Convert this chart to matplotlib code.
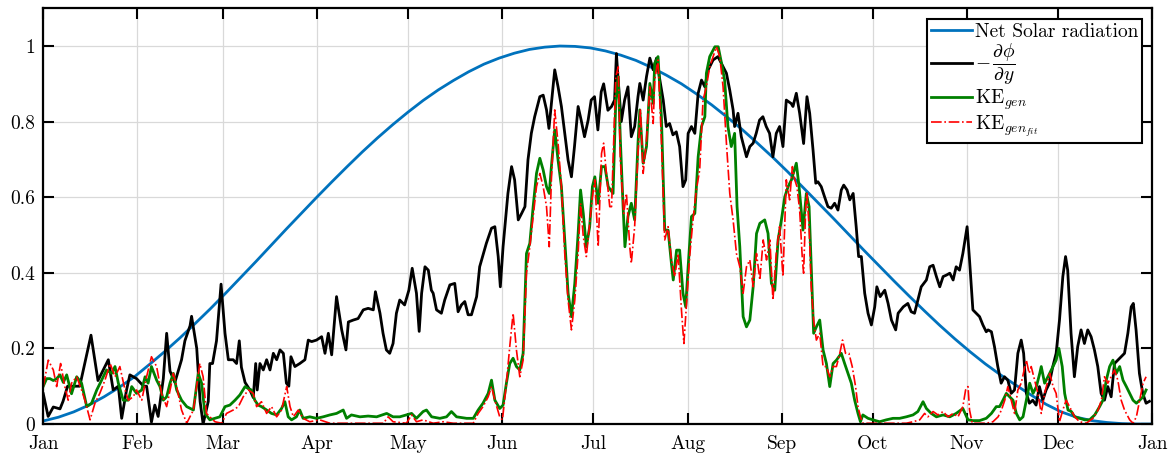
import matplotlib
matplotlib.use("Agg")
import matplotlib.pyplot as plt
from matplotlib.ticker import FixedLocator, FixedFormatter

plt.rcParams['font.family'] = 'serif'
plt.rcParams['font.serif'] = ['cmr10', 'DejaVu Serif']
plt.rcParams['mathtext.fontset'] = 'cm'
plt.rcParams['axes.formatter.use_mathtext'] = True

# ---------------- data (day of year, normalised value) ----------------
month_days = [0, 31, 59, 90, 120, 151, 181, 212, 243, 273, 304, 334, 365]
month_labels = ['Jan', 'Feb', 'Mar', 'Apr', 'May', 'Jun', 'Jul', 'Aug',
                'Sep', 'Oct', 'Nov', 'Dec', 'Jan']
ytick_vals = [0, 0.2, 0.4, 0.6, 0.8, 1.0]
ytick_labels = ['0', '0.2', '0.4', '0.6', '0.8', '1']

solar_days = [0, 5, 10, 15, 20, 25, 30, 35, 40, 45, 50, 55, 60, 65, 70, 75, 80, 85,
              90, 95, 100, 105, 110, 115, 120, 125, 130, 135, 140, 145, 150, 155,
              160, 165, 170, 175, 180, 185, 190, 195, 200, 205, 210, 215, 220, 225,
              230, 235, 240, 245, 250, 255, 260, 265, 270, 275, 280, 285, 290, 295,
              300, 305, 310, 315, 320, 325, 330, 335, 340, 345, 350, 355, 360, 365]
solar_vals = [0.008, 0.018, 0.032, 0.05, 0.072, 0.097, 0.125, 0.158, 0.192, 0.228,
              0.266, 0.305, 0.346, 0.388, 0.43, 0.473, 0.516, 0.558, 0.6, 0.641,
              0.681, 0.72, 0.757, 0.792, 0.825, 0.856, 0.884, 0.909, 0.932, 0.952,
              0.968, 0.981, 0.991, 0.997, 1.0, 0.999, 0.995, 0.987, 0.976, 0.962,
              0.944, 0.923, 0.9, 0.873, 0.844, 0.812, 0.779, 0.743, 0.706, 0.667,
              0.626, 0.585, 0.544, 0.502, 0.46, 0.419, 0.378, 0.338, 0.299, 0.261,
              0.225, 0.191, 0.159, 0.13, 0.103, 0.077, 0.052, 0.032, 0.018, 0.009,
              0.004, 0.001, 0.0, 0.0]

grad_days = [0.0, 1.6, 3.3, 5.5, 6.5, 8.0, 12.0, 15.7, 18.0, 21.4, 23.0, 24.7, 25.8,
             27.4, 28.5, 30.7, 33.0, 34.0, 35.6, 36.7, 37.8, 39.5, 40.6, 41.7, 43.3,
             45.5, 46.6, 48.3, 48.8, 50.5, 51.6, 52.6, 54.3, 54.8, 55.7, 57.0, 58.5,
             59.8, 60.9, 62.5, 63.6, 64.5, 65.2, 66.4, 68.0, 69.1, 69.9, 70.4, 71.3,
             72.4, 73.5, 74.6, 75.7, 76.8, 77.9, 79.0, 80.0, 80.8, 81.5, 82.8, 84.4,
             86.1, 87.2, 88.3, 89.9, 91.6, 92.7, 93.8, 94.9, 96.5, 98.2, 99.6, 100.4,
             102.0, 103.6, 105.3, 106.9, 108.6, 109.3, 110.8, 111.8, 112.9, 114.0,
             115.1, 116.2, 117.3, 118.9, 120.3, 121.4,
             122.8, 123.7, 124.5, 125.6, 126.7, 127.7, 128.3, 129.4, 131.0, 132.1,
             133.8, 135.4, 136.5, 137.6, 138.7, 139.8, 140.9, 142.6, 143.6, 144.7,
             145.8, 147.5, 148.6, 149.7, 150.4, 151.3, 152.9, 154.1, 155.1, 156.3,
             157.4, 158.5, 159.5, 160.6, 161.7, 163.4, 164.5, 165.6, 166.4, 167.2,
             168.3, 169.4, 170.5, 171.6, 172.7, 173.8, 174.8, 176.0, 177.0, 178.1,
             179.3, 180.3, 181.4, 182.5, 183.6, 184.4, 185.8,
             187.0, 188.0, 188.6, 189.1, 190.2, 191.3, 192.4, 193.5, 194.6, 195.7,
             196.3, 197.4, 198.5, 199.6, 200.7, 201.8, 202.9, 204.0, 205.0, 206.1,
             207.2, 208.3, 209.4, 210.5, 211.4, 212.2, 213.3, 214.4, 215.5, 216.6,
             217.7, 218.8, 220.4, 222.0, 223.7, 224.8, 225.9, 227.0, 227.5, 228.6,
             229.7, 231.4, 232.5, 233.6, 234.6, 235.7, 236.8, 237.9, 239.0, 240.1,
             241.2, 242.3, 243.4, 244.5, 246.1,
             246.7, 247.8, 248.9, 250.2, 251.3, 252.2, 253.3, 254.2, 254.9, 256.0,
             257.1, 258.2, 259.3, 260.4, 261.5, 262.6, 263.4, 264.5, 265.4, 266.5,
             267.5, 268.3, 269.2, 270.3, 271.4, 272.5, 273.6, 274.3, 275.4, 276.9,
             278.0, 279.1, 280.5, 281.3, 283.0, 284.5, 285.6, 286.7, 287.8, 288.9,
             290.6, 291.7, 292.8, 293.9, 295.0, 296.1, 297.2, 298.3, 299.4, 300.4,
             301.5, 302.6, 304.0, 304.8, 305.9, 307.0, 308.1, 309.2, 310.3,
             310.9, 312.0, 313.0, 314.1, 315.2, 316.3, 317.4, 318.5, 319.6, 320.7,
             321.8, 322.6, 323.5, 324.5, 325.6, 326.7, 327.8, 328.9, 330.0, 331.1,
             332.2, 333.3, 334.4, 335.5, 336.4, 337.1, 338.2, 339.3, 340.4, 341.5,
             342.6, 343.7, 344.8, 345.9, 347.0, 348.1, 349.2, 350.3, 351.4, 352.5,
             353.6, 354.7, 355.8, 356.9, 358.0, 358.7, 359.6, 360.7, 361.8, 362.9,
             364.0]
grad_vals = [0.08, 0.02, 0.045, 0.04, 0.06, 0.10, 0.10, 0.235, 0.115, 0.17, 0.09, 0.10,
             0.015, 0.09, 0.13, 0.12, 0.10, 0.10, 0.005, 0.05, 0.02, 0.12, 0.24, 0.14,
             0.11, 0.17, 0.22, 0.26, 0.285, 0.20, 0.06, 0.0, 0.06, 0.16, 0.16, 0.22,
             0.37, 0.24, 0.17, 0.17, 0.16, 0.22, 0.15, 0.11, 0.09, 0.07, 0.16, 0.09,
             0.16, 0.143, 0.17, 0.143, 0.187, 0.17, 0.196, 0.187, 0.108, 0.10, 0.178,
             0.152, 0.16, 0.17, 0.222, 0.218, 0.222, 0.231, 0.187, 0.24, 0.183, 0.337,
             0.249, 0.196, 0.27, 0.275, 0.279, 0.302, 0.306, 0.302, 0.35, 0.293, 0.24,
             0.196, 0.187, 0.213, 0.293, 0.328, 0.315, 0.354, 0.412,
             0.346, 0.245, 0.346, 0.416, 0.407, 0.354, 0.346, 0.302, 0.293, 0.328,
             0.368, 0.372, 0.297, 0.315, 0.324, 0.289, 0.289, 0.337, 0.416, 0.447,
             0.478, 0.518, 0.522, 0.443, 0.363, 0.469, 0.61, 0.681, 0.646, 0.54,
             0.557, 0.575, 0.699, 0.769, 0.813, 0.866, 0.87, 0.831, 0.782, 0.848,
             0.937, 0.892, 0.84, 0.769, 0.698, 0.654, 0.734, 0.84, 0.804, 0.76,
             0.804, 0.857, 0.866, 0.778, 0.879, 0.90, 0.83,
             0.84, 0.857, 0.98, 0.919, 0.80, 0.857, 0.892, 0.76, 0.787, 0.866,
             0.901, 0.857, 0.919, 0.968, 0.937, 0.968, 0.91, 0.857, 0.787, 0.795,
             0.765, 0.773, 0.734, 0.628, 0.646, 0.769, 0.787, 0.769, 0.875, 0.91,
             0.892, 0.937, 0.963, 0.972, 0.945, 0.928, 0.883, 0.831, 0.787, 0.822,
             0.76, 0.707, 0.734, 0.743, 0.769, 0.804, 0.813, 0.787, 0.769, 0.707,
             0.769, 0.787, 0.734, 0.857, 0.848,
             0.84, 0.875, 0.822, 0.742, 0.866, 0.822, 0.725, 0.637, 0.641, 0.628,
             0.601, 0.575, 0.571, 0.584, 0.566, 0.619, 0.632, 0.619, 0.593, 0.61,
             0.522, 0.443, 0.443, 0.346, 0.293, 0.262, 0.31, 0.363, 0.337, 0.354,
             0.319, 0.275, 0.249, 0.293, 0.31, 0.319, 0.297, 0.293, 0.328, 0.363,
             0.381, 0.416, 0.42, 0.39, 0.363, 0.39, 0.394, 0.399, 0.381, 0.416,
             0.407, 0.451, 0.522, 0.434, 0.302, 0.293, 0.284, 0.262, 0.244,
             0.249, 0.244, 0.205, 0.152, 0.108, 0.125, 0.116, 0.081, 0.09, 0.187,
             0.222, 0.187, 0.081, 0.055, 0.063, 0.05, 0.099, 0.063, 0.09, 0.108,
             0.152, 0.187, 0.275, 0.39, 0.443, 0.407, 0.24, 0.125, 0.205, 0.249,
             0.213, 0.249, 0.231, 0.196, 0.152, 0.081, 0.063, 0.099, 0.072, 0.16,
             0.169, 0.178, 0.187, 0.24, 0.31, 0.319, 0.249, 0.134, 0.081, 0.055,
             0.06]

ke_days = [0.0, 1.1, 2.2, 3.3, 4.4, 5.5, 6.6, 7.7, 9.3, 11.0, 12.6, 14.3, 15.9, 17.6,
           19.2, 20.8, 22.5, 23.6, 24.7, 26.3, 28.0, 29.1, 30.7, 32.4, 33.5, 34.5,
           35.6, 37.3, 38.4, 39.5, 40.6, 41.7, 42.8, 43.9, 45.5, 47.2, 49.4, 51.0,
           52.1, 53.2, 54.8, 56.5, 58.1,
           59.8, 61.4, 63.1, 64.7, 66.4, 67.4, 68.5, 69.6, 70.7, 71.8, 73.5, 75.1,
           76.8, 78.4, 79.5, 80.6, 81.7, 83.3, 84.4, 85.5, 87.7, 89.9, 92.1, 94.3,
           96.5, 98.7, 99.8, 101.4, 104.2, 106.9, 109.7, 113.0, 115.1, 117.3, 119.5,
           121.2, 122.8,
           125.0, 126.1, 127.8, 130.5, 132.7, 134.3, 136.0, 139.3, 141.5, 143.1,
           144.7, 146.4, 147.5, 148.6, 150.2, 151.3, 152.4, 153.5, 154.6, 155.7,
           156.8, 157.9, 159.0, 160.1, 161.2, 162.3, 163.4, 164.5, 165.6, 166.5,
           167.2, 168.3, 169.4, 170.5, 171.6, 172.7, 173.8, 174.9, 176.0, 176.8,
           177.7, 178.7, 179.8, 180.7, 181.5, 182.6, 183.7, 184.8, 185.9,
           187.5, 188.4, 189.2, 189.9, 190.8, 191.4, 192.4, 193.5, 194.6, 195.7,
           196.3, 197.4, 198.5, 199.6, 200.7, 201.2, 202.3, 203.4, 204.5, 205.6,
           206.7, 207.3, 208.4, 209.4, 210.5, 211.4, 212.2, 213.3, 214.4, 215.5,
           216.6, 217.7, 218.2, 219.3, 221.0, 222.1, 223.2, 224.2, 225.3, 226.4,
           227.5, 228.3, 229.2, 230.3, 231.4, 232.5, 233.6, 234.7, 235.8, 237.4,
           238.5, 239.6, 240.7, 241.8, 242.9, 244.0, 245.1, 246.2, 247.8,
           248.7, 250.0, 251.1, 252.0, 252.7, 253.5, 254.4, 255.5, 256.6, 257.7,
           258.8, 259.9, 261.0, 262.6, 263.7, 264.8, 265.9, 267.0, 268.1, 268.9,
           269.7, 271.4, 273.0, 275.2, 277.4, 279.6, 281.8, 284.0, 286.2, 287.8,
           289.5, 290.6, 292.2, 293.9, 296.1, 298.3, 300.4, 302.6, 304.3, 305.9,
           308.1,
           310.3, 312.0, 313.6, 314.7, 315.8, 316.9, 318.0, 319.1, 320.2, 321.3,
           322.4, 323.5, 324.6, 325.7, 326.8, 327.9, 328.4, 329.5, 330.6, 331.7,
           333.3, 334.2, 335.3, 336.1, 337.2, 338.3, 339.4, 341.0, 342.7, 344.3,
           346.0, 347.6, 348.7, 349.8, 350.9, 352.0, 353.1, 354.2, 355.3, 356.4,
           357.5, 358.6, 359.7, 360.8, 361.9, 362.9]
ke_vals = [0.10, 0.12, 0.12, 0.115, 0.12, 0.13, 0.11, 0.13, 0.08, 0.125, 0.108, 0.046,
           0.055, 0.09, 0.116, 0.143, 0.134, 0.152, 0.108, 0.063, 0.063, 0.099, 0.081,
           0.09, 0.125, 0.108, 0.152, 0.116, 0.099, 0.063, 0.072, 0.108, 0.134, 0.09,
           0.063, 0.046, 0.037, 0.134, 0.108, 0.028, 0.011, 0.015, 0.019,
           0.046, 0.05, 0.063, 0.077, 0.099, 0.094, 0.09, 0.063, 0.05, 0.046, 0.037,
           0.028, 0.024, 0.041, 0.059, 0.019, 0.011, 0.019, 0.037, 0.015, 0.019,
           0.015, 0.019, 0.024, 0.028, 0.037, 0.015, 0.024, 0.019, 0.021, 0.019,
           0.028, 0.019, 0.019, 0.024, 0.028, 0.015,
           0.033, 0.037, 0.019, 0.015, 0.019, 0.033, 0.019, 0.015, 0.015, 0.037,
           0.055, 0.081, 0.116, 0.063, 0.041, 0.05, 0.108, 0.16, 0.174, 0.152,
           0.143, 0.187, 0.451, 0.478, 0.575, 0.663, 0.703, 0.672, 0.628, 0.61,
           0.681, 0.778, 0.698, 0.628, 0.487, 0.346, 0.284, 0.372, 0.504, 0.619,
           0.557, 0.469, 0.522, 0.628, 0.654, 0.584, 0.681, 0.681, 0.628,
           0.61, 0.857, 0.919, 0.751, 0.575, 0.469, 0.549, 0.584, 0.54, 0.743,
           0.831, 0.69, 0.734, 0.901, 0.848, 0.954, 0.972, 0.813, 0.513, 0.513,
           0.425, 0.381, 0.46, 0.46, 0.346, 0.31, 0.416, 0.549, 0.557, 0.707,
           0.787, 0.813, 0.928, 0.972, 0.998, 0.998, 0.954, 0.91, 0.787, 0.734,
           0.769, 0.575, 0.469, 0.284, 0.257, 0.275, 0.363, 0.504, 0.531, 0.54,
           0.504, 0.372, 0.354, 0.487, 0.54, 0.601, 0.628, 0.646, 0.69,
           0.628, 0.513, 0.61, 0.575, 0.416, 0.24, 0.257, 0.275, 0.196, 0.16,
           0.099, 0.16, 0.169, 0.187, 0.16, 0.134, 0.108, 0.063, 0.028, 0.006,
           0.024, 0.015, 0.011, 0.006, 0.011, 0.015, 0.015, 0.019, 0.024, 0.033,
           0.059, 0.041, 0.028, 0.019, 0.024, 0.019, 0.028, 0.041, 0.011, 0.009,
           0.009,
           0.015, 0.028, 0.046, 0.046, 0.063, 0.081, 0.072, 0.063, 0.028, 0.011,
           0.019, 0.063, 0.108, 0.081, 0.099, 0.134, 0.152, 0.108, 0.125, 0.143,
           0.169, 0.20, 0.152, 0.081, 0.037, 0.033, 0.019, 0.015, 0.011, 0.011,
           0.024, 0.046, 0.063, 0.116, 0.152, 0.169, 0.134, 0.152, 0.116, 0.099,
           0.081, 0.063, 0.055, 0.063, 0.072, 0.09]

kefit_days = [0.0, 1.65, 3.3, 4.4, 5.7, 7.1, 8.2, 9.3, 11.0, 12.6, 13.7, 15.4, 17.0,
              18.6, 20.3, 22.0, 23.6, 25.2, 26.9, 28.0, 29.6, 30.7, 32.4, 34.0, 35.6,
              37.3, 38.9, 40.6, 42.2, 42.8, 43.9, 45.5, 47.2, 49.4, 51.5, 52.6, 53.7,
              56.5, 58.7,
              60.3, 62.5, 64.2, 65.8, 67.5, 69.1, 70.2, 71.8, 73.5, 75.1, 76.8, 78.4,
              80.1, 81.2, 82.3, 83.9, 85.5, 87.7, 91.0, 94.3, 100.9, 111.9, 113.5,
              115.1, 119.5, 121.2, 122.8,
              125.0, 128.3, 131.6, 134.9, 141.5, 143.1, 144.7, 146.4, 147.5, 148.6,
              150.2, 151.1, 152.4, 153.5, 154.6, 155.7, 156.8, 157.9, 159.0, 160.1,
              161.2, 162.3, 163.4, 164.5, 165.6, 166.5, 167.2, 168.3, 169.4, 170.5,
              171.6, 172.7, 173.8, 174.9, 176.0, 176.8, 177.7, 178.7, 179.8, 180.7,
              181.5, 182.6, 183.7, 184.4, 185.3, 186.4,
              187.0, 188.4, 189.2, 189.9, 191.0, 191.9, 193.0, 193.5, 194.6, 195.7,
              196.5, 197.4, 198.5, 199.6, 200.7, 201.2, 202.3, 203.4, 204.5, 205.6,
              206.7, 207.8, 208.9, 210.0, 210.8, 211.6, 212.7, 213.8, 214.9, 216.0,
              217.1, 218.2, 219.3, 221.5, 222.6, 223.7, 224.8, 225.9, 227.0, 228.1,
              229.2, 230.3, 231.4, 232.5, 233.6, 234.7, 235.8, 236.9, 238.0, 239.1,
              240.1, 241.2, 242.3, 243.4, 244.5, 245.6, 246.5, 247.3, 248.0, 248.9,
              249.8, 250.2, 250.9, 251.3, 252.0, 252.7, 253.5, 254.4, 255.5, 256.6,
              257.7, 258.8, 259.9, 261.0, 262.1, 263.0, 264.0, 265.1, 266.2, 267.3,
              268.1, 268.9, 269.7, 277.4, 284.0, 286.2, 288.4, 290.0, 291.1, 292.8,
              294.4, 296.1, 297.7, 299.4, 301.0, 302.6, 303.5, 304.3, 304.8, 305.7,
              308.1,
              310.3, 312.5, 314.2, 315.3, 316.4, 317.4, 318.5, 319.6, 320.7, 321.8,
              323.5, 324.4, 325.1, 326.2, 327.3, 328.4, 329.5, 331.2, 332.3, 333.3,
              334.4, 335.5, 336.6, 337.7, 339.4, 341.0, 343.2, 345.4, 347.1, 348.2,
              349.2, 350.3, 351.4, 352.5, 353.6, 354.7, 355.8, 357.5, 358.6, 359.7,
              360.8, 361.9, 362.9]
kefit_vals = [0.099, 0.169, 0.143, 0.099, 0.16, 0.099, 0.063, 0.108, 0.125, 0.09, 0.063,
              0.011, 0.055, 0.081, 0.116, 0.16, 0.125, 0.152, 0.09, 0.063, 0.072, 0.09,
              0.063, 0.125, 0.178, 0.152, 0.081, 0.046, 0.108, 0.134, 0.099, 0.037,
              0.002, 0.037, 0.16, 0.125, 0.028, 0.006, 0.002,
              0.028, 0.037, 0.046, 0.072, 0.09, 0.081, 0.046, 0.059, 0.028, 0.046,
              0.019, 0.037, 0.099, 0.046, 0.019, 0.037, 0.015, 0.006, 0.011, 0.002,
              0.002, 0.002, 0.019, 0.006, 0.002, 0.024, 0.006,
              0.011, 0.002, 0.006, 0.002, 0.002, 0.028, 0.046, 0.072, 0.099, 0.063,
              0.019, 0.011, 0.108, 0.205, 0.293, 0.196, 0.125, 0.169, 0.399, 0.469,
              0.549, 0.628, 0.663, 0.628, 0.575, 0.469, 0.646, 0.831, 0.743, 0.628,
              0.451, 0.328, 0.249, 0.328, 0.451, 0.584, 0.496, 0.443, 0.531, 0.601,
              0.646, 0.469, 0.716, 0.743, 0.663, 0.575,
              0.575, 0.919, 0.945, 0.698, 0.557, 0.61, 0.469, 0.425, 0.522, 0.716,
              0.831, 0.663, 0.751, 0.892, 0.795, 0.91, 0.963, 0.751, 0.487, 0.522,
              0.434, 0.39, 0.451, 0.302, 0.213, 0.31, 0.443, 0.54, 0.619, 0.672,
              0.857, 0.892, 0.945, 0.998, 0.972, 0.892, 0.743, 0.61, 0.54, 0.451,
              0.416, 0.346, 0.416, 0.434, 0.363, 0.451, 0.381, 0.487, 0.434, 0.487,
              0.328, 0.451, 0.522, 0.39, 0.646, 0.593, 0.681, 0.646, 0.628, 0.566,
              0.434, 0.399, 0.575, 0.61, 0.522, 0.363, 0.275, 0.222, 0.24, 0.152,
              0.152, 0.125, 0.152, 0.152, 0.187, 0.222, 0.187, 0.187, 0.152, 0.099,
              0.046, 0.019, 0.002, 0.002, 0.002, 0.006, 0.011, 0.028, 0.019, 0.033,
              0.024, 0.033, 0.019, 0.028, 0.019, 0.046, 0.09, 0.099, 0.037, 0.002,
              0.002,
              0.002, 0.006, 0.019, 0.037, 0.063, 0.099, 0.063, 0.028, 0.09, 0.108,
              0.169, 0.134, 0.152, 0.116, 0.081, 0.028, 0.081, 0.134, 0.099, 0.081,
              0.006, 0.037, 0.063, 0.046, 0.019, 0.006, 0.002, 0.015, 0.037, 0.063,
              0.125, 0.108, 0.125, 0.143, 0.116, 0.063, 0.037, 0.011, 0.002, 0.019,
              0.063, 0.108, 0.125]

legend_labels = ['Net Solar radiation',
                 r'$-\,\dfrac{\partial\phi}{\partial y}$',
                 r'$\mathrm{KE}_{gen}$',
                 r'$\mathrm{KE}_{gen_{fit}}$']

# ---------------- plotting ----------------
fig = plt.figure(figsize=(11.76, 4.57), dpi=100)
ax = fig.add_axes([0.0368, 0.0722, 0.9432, 0.9098])

ax.plot(solar_days, solar_vals, color='#0072BD', lw=2.0, label=legend_labels[0])
ax.plot(grad_days, grad_vals, color='black', lw=2.0, label=legend_labels[1])
ax.plot(ke_days, ke_vals, color='#008000', lw=2.0, label=legend_labels[2])
ax.plot(kefit_days, kefit_vals, color='red', lw=1.2, ls='-.', label=legend_labels[3])

ax.set_xlim(0, 365)
ax.set_ylim(0, 1.1)
ax.xaxis.set_major_locator(FixedLocator(month_days))
ax.xaxis.set_major_formatter(FixedFormatter(month_labels))
ax.yaxis.set_major_locator(FixedLocator(ytick_vals))
ax.yaxis.set_major_formatter(FixedFormatter(ytick_labels))
ax.tick_params(direction='in', length=8, width=1.5, top=True, right=True,
               labelsize=14)
ax.tick_params(axis='x', pad=8)
ax.tick_params(axis='y', pad=6)
ax.grid(True, color='#d9d9d9', lw=0.9)
ax.set_axisbelow(True)
for s in ax.spines.values():
    s.set_linewidth(1.6)

leg = ax.legend(loc='upper right', fontsize=14, frameon=True, fancybox=False,
                edgecolor='black', framealpha=1, borderaxespad=0.55,
                handlelength=2.1, handletextpad=0.15, borderpad=0.2,
                labelspacing=0.05)
leg.get_frame().set_linewidth(1.5)

fig.savefig('out.png', dpi=100)
